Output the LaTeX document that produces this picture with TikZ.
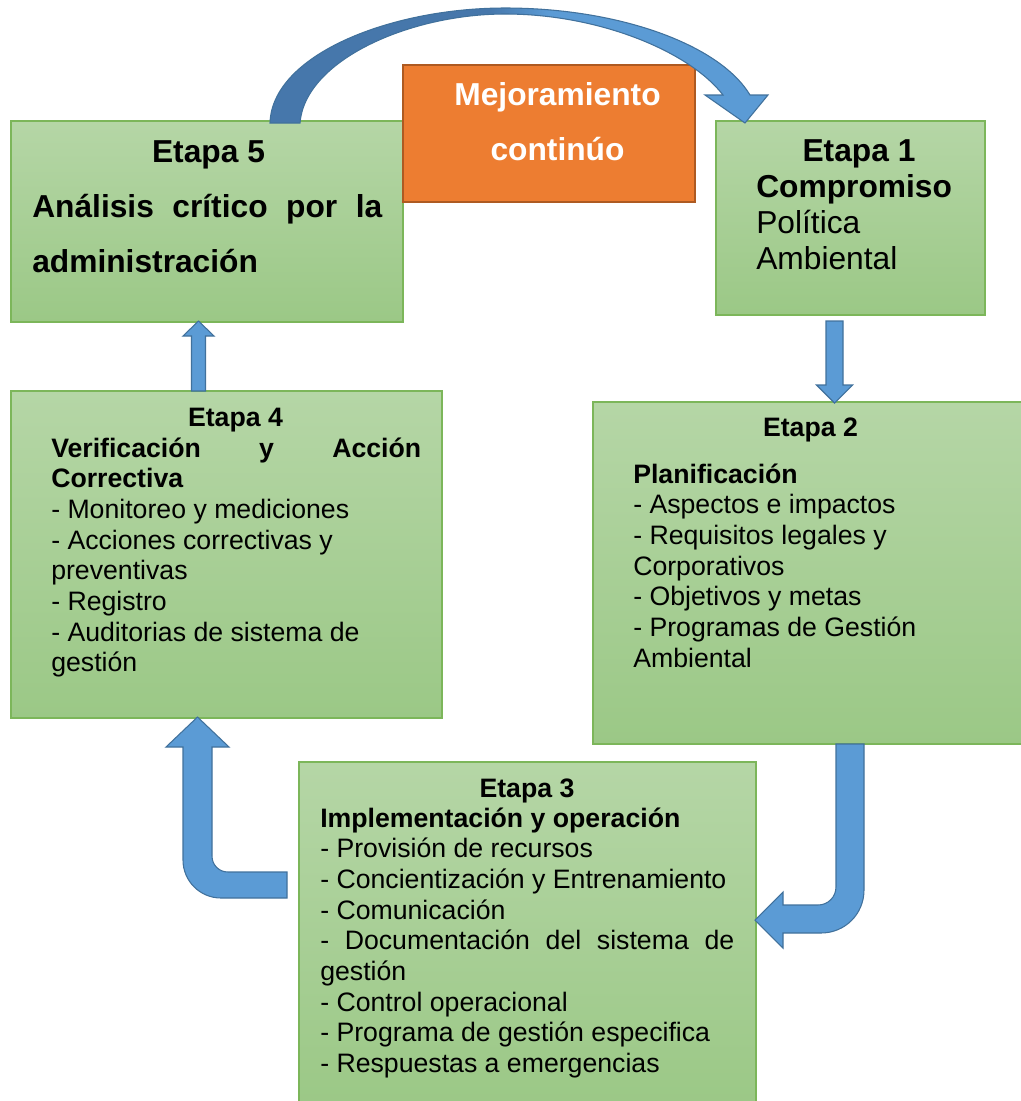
\documentclass[tikz,border=0pt]{standalone}
\usepackage{fontspec}
\setmainfont{Liberation Sans}
\usetikzlibrary{calc}

\definecolor{gtop}{HTML}{B5D6A6}
\definecolor{gbot}{HTML}{9BC886}
\definecolor{gline}{HTML}{7CB65A}
\definecolor{obox}{HTML}{ED7D31}
\definecolor{oline}{HTML}{AE5A21}
\definecolor{ablue}{HTML}{5B9BD5}
\definecolor{aline}{HTML}{41719C}
\definecolor{adeep}{HTML}{4677AB}

% darker back half, lighter front half of the curved loop arrow
\pgfdeclarehorizontalshading{loopshade}{100bp}{color(0bp)=(adeep); color(47bp)=(adeep); color(53bp)=(ablue); color(100bp)=(ablue)}

\newcommand\bodyfont{\fontsize{20}{23}\selectfont}
\newcommand\bigbold{\fontsize{23.8}{28}\selectfont\bfseries}

\begin{document}
\begin{tikzpicture}[x=0.75pt,y=-0.75pt,
  stagebox/.style={rectangle, draw=gline, line width=1.1pt, top color=gtop, bottom color=gbot,
                   anchor=north west, inner sep=0pt, outer sep=0pt},
  orangebox/.style={rectangle, draw=oline, line width=1.3pt, fill=obox,
                    anchor=north west, inner sep=0pt, outer sep=0pt},
  title/.style={anchor=base, inner sep=0pt},
  body/.style={anchor=base west, inner sep=0pt},
  barrow/.style={fill=ablue, draw=aline, line width=0.8pt, line join=miter}]

\useasboundingbox (0,0) rectangle (1021,1101);

% stage boxes
\node[stagebox, minimum width=294pt,    minimum height=150.75pt] (e5) at (11,121) {};
\node[orangebox, minimum width=219pt,   minimum height=102.75pt] (mc) at (403,65) {};
\node[stagebox, minimum width=201.75pt, minimum height=145.5pt]  (e1) at (716,121) {};
\node[stagebox, minimum width=322.5pt,  minimum height=256.5pt]  (e2) at (593,402) {};
\node[stagebox, minimum width=323.25pt, minimum height=245.25pt] (e4) at (11,391) {};
\node[stagebox, minimum width=342.75pt, minimum height=258pt]    (e3) at (299,762) {};

% Etapa 5
\node[title, font=\bigbold] (t5) at (208.5,162) {Etapa 5};
\node[body] (b5) at (32,217) {\parbox[t]{300pt}{\raggedright\fontsize{23.8}{41.25}\selectfont\bfseries
  \makebox[262.5pt][s]{Análisis crítico por la}\\administración}};

% Mejoramiento continuo
\node[title, font=\bigbold, text=white] (m1) at (557.5,105) {Mejoramiento};
\node[title, font=\bigbold, text=white] (m2) at (557.5,160) {continúo};

% Etapa 1
\node[title, font=\bigbold] (t1) at (859,161) {Etapa 1};
\node[body] (b1) at (756,197) {\parbox[t]{200pt}{\raggedright\fontsize{23.8}{27}\selectfont
  \textbf{Compromiso}\\Política\\Ambiental}};

% Etapa 2
\node[title, font=\bodyfont\bfseries] (t2) at (810.5,436) {Etapa 2};
\node[body] (b2) at (633,483) {\parbox[t]{290pt}{\raggedright\bodyfont
  \textbf{Planificación}\\- Aspectos e impactos\\- Requisitos legales y\\Corporativos\\
  - Objetivos y metas\\- Programas de Gestión\\Ambiental}};

% Etapa 4
\node[title, font=\bodyfont\bfseries] (t4) at (235.5,426) {Etapa 4};
\node[body] (b4) at (51,457) {\parbox[t]{290pt}{\raggedright\bodyfont
  \textbf{\makebox[277.5pt][s]{Verificación y Acción}}\\\textbf{Correctiva}\\
  - Monitoreo y mediciones\\- Acciones correctivas y\\preventivas\\- Registro\\
  - Auditorias de sistema de\\gestión}};

% Etapa 3
\node[title, font=\bodyfont\bfseries] (t3) at (527,797) {Etapa 3};
\node[body] (b3) at (320,827) {\parbox[t]{330pt}{\raggedright\bodyfont
  \textbf{Implementación y operación}\\- Provisión de recursos\\
  - Concientización y Entrenamiento\\- Comunicación\\
  \makebox[310.5pt][s]{- Documentación del sistema de}\\gestión\\
  - Control operacional\\- Programa de gestión especifica\\- Respuestas a emergencias}};

% connector end points
\coordinate (c51s) at ($(e5.north west)+(274,2)$);
\coordinate (c51t) at ($(e1.north west)+(29,2)$);
\coordinate (c12s) at ($(e1.south west)+(118.5,6)$);
\coordinate (c12t) at ($(e2.north west)+(241.5,1)$);
\coordinate (c23s) at ($(e2.south west)+(257,0)$);
\coordinate (c23t) at ($(e3.north east)+(-1,158)$);
\coordinate (c34s) at ($(e3.north west)+(-12,123)$);
\coordinate (c34t) at ($(e4.south west)+(186.5,-1)$);
\coordinate (c45s) at ($(e4.north west)+(187.5,0)$);
\coordinate (c45t) at ($(e5.south west)+(187.5,-1)$);

% curved loop arrow: Etapa 5 -> Etapa 1
\draw[draw=aline, line width=0.8pt, line join=miter, shade, shading=loopshade]
  ($(c51s)+(-15,0)$) .. controls ($(c51s)+(-13,-68)$) and ($(c51s)+(105,-115)$) .. ($(c51s)+(220,-115)$)
  .. controls ($(c51t)+(-125,-115)$) and ($(c51t)+(-25,-78)$) .. ($(c51t)+(5,-28)$)
  -- ($(c51t)+(23,-28)$) -- (c51t) -- ($(c51t)+(-40,-28)$) -- ($(c51t)+(-22,-28)$)
  .. controls ($(c51t)+(-55,-71)$) and ($(c51t)+(-145,-109)$) .. ($(c51s)+(220,-109)$)
  .. controls ($(c51s)+(125,-109)$) and ($(c51s)+(20,-63)$) .. ($(c51s)+(15,0)$) -- cycle;

% Etapa 1 -> Etapa 2
\draw[barrow] ($(c12s)+(-8.5,0)$) -- ($(c12s)+(8.5,0)$) -- ($(c12t)+(8.5,-18)$) -- ($(c12t)+(18,-18)$)
  -- (c12t) -- ($(c12t)+(-18,-18)$) -- ($(c12t)+(-8.5,-18)$) -- cycle;

% Etapa 2 -> Etapa 3
\draw[barrow] ($(c23s)+(-14,0)$) -- ($(c23s)+(14,0)$) -- ($(c23t)+(109,-30)$)
  .. controls ($(c23t)+(109,-6)$) and ($(c23t)+(90,13)$) .. ($(c23t)+(66,13)$)
  -- ($(c23t)+(28,13)$) -- ($(c23t)+(28,28)$) -- (c23t) -- ($(c23t)+(28,-28)$)
  -- ($(c23t)+(28,-15)$) -- ($(c23t)+(63,-15)$)
  .. controls ($(c23t)+(73,-15)$) and ($(c23t)+(81,-23)$) .. ($(c23t)+(81,-33)$) -- cycle;

% Etapa 3 -> Etapa 4
\draw[barrow] ($(c34s)+(0,-13)$) -- ($(c34t)+(30.5,155)$)
  .. controls ($(c34t)+(21.5,155)$) and ($(c34t)+(14.5,148)$) .. ($(c34t)+(14.5,139)$)
  -- ($(c34t)+(14.5,30)$) -- ($(c34t)+(31.5,30)$) -- (c34t) -- ($(c34t)+(-31.5,30)$)
  -- ($(c34t)+(-14.5,30)$) -- ($(c34t)+(-14.5,143)$)
  .. controls ($(c34t)+(-14.5,164)$) and ($(c34t)+(2.5,181)$) .. ($(c34t)+(23.5,181)$)
  -- ($(c34s)+(0,13)$) -- cycle;

% Etapa 4 -> Etapa 5
\draw[barrow] ($(c45s)+(-7,0)$) -- ($(c45s)+(7,0)$) -- ($(c45t)+(7,15)$) -- ($(c45t)+(15.5,15)$)
  -- (c45t) -- ($(c45t)+(-15.5,15)$) -- ($(c45t)+(-7,15)$) -- cycle;

\end{tikzpicture}
\end{document}
